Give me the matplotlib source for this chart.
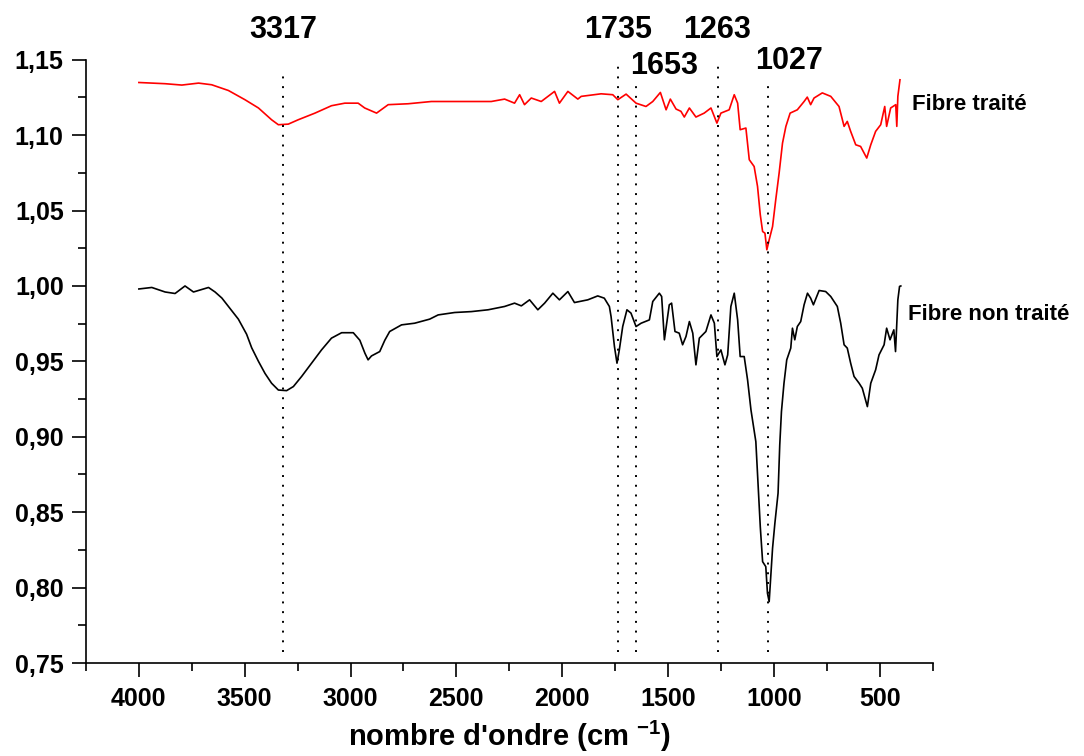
import numpy as np
import matplotlib
matplotlib.use("Agg")
import matplotlib.pyplot as plt
from matplotlib.ticker import MultipleLocator, FuncFormatter

plt.rcParams['font.family'] = ['Liberation Sans', 'DejaVu Sans']
plt.rcParams['font.weight'] = 'bold'
plt.rcParams['mathtext.fontset'] = 'custom'
plt.rcParams['mathtext.rm'] = 'Liberation Sans:bold'
plt.rcParams['mathtext.default'] = 'rm'

# fibre non traitee (black)
wn_raw = [4000, 3939, 3876, 3829, 3782, 3742, 3671, 3640, 3608, 3569, 3530, 3491,
          3467, 3435, 3404, 3373, 3341, 3302, 3270, 3231, 3184, 3137, 3090, 3042,
          2987, 2956, 2932, 2917, 2901, 2862, 2838, 2815, 2759, 2697, 2626, 2586,
          2508, 2429, 2350, 2272, 2225, 2193, 2154, 2115, 2083, 2044, 2013, 1973,
          1942, 1879, 1832, 1801, 1777, 1769, 1753, 1741, 1730, 1714, 1694, 1675,
          1651, 1627, 1588, 1572, 1541, 1530, 1517, 1494, 1483, 1467, 1447, 1431,
          1415, 1399, 1383, 1368, 1352, 1321, 1297, 1281, 1269, 1250, 1231, 1218,
          1203, 1187, 1171, 1159, 1140, 1124, 1108, 1085, 1077, 1064, 1053, 1038,
          1030, 1022, 1014, 1006, 995, 980, 972, 964, 952, 939, 920, 912, 901, 889,
          873, 857, 841, 826, 813, 786, 755, 731, 700, 684, 668, 653, 637, 621, 597,
          582, 558, 542, 519, 503, 479, 467, 451, 433, 425, 414, 406, 400]
ab_raw = [0.998, 0.999, 0.996, 0.995, 1.000, 0.996, 0.999, 0.996, 0.992, 0.985, 0.978, 0.968,
          0.959, 0.950, 0.942, 0.9355, 0.931, 0.9306, 0.9333, 0.940, 0.9488, 0.9576, 0.9654, 0.969,
          0.969, 0.964, 0.9554, 0.951, 0.9536, 0.9565, 0.964, 0.9698, 0.9742, 0.9753, 0.978, 0.9808,
          0.9824, 0.983, 0.9842, 0.9864, 0.9886, 0.9868, 0.9908, 0.9842, 0.9886, 0.9952, 0.9908, 0.9963,
          0.989, 0.9908, 0.9934, 0.9919, 0.9864, 0.9797, 0.9598, 0.9488, 0.9576, 0.9731, 0.9842, 0.982,
          0.9731, 0.9753, 0.9775, 0.9897, 0.9952, 0.993, 0.9643, 0.9875, 0.9886, 0.9698, 0.9687, 0.961,
          0.9665, 0.9764, 0.9687, 0.9477, 0.9654, 0.9698, 0.9808, 0.9753, 0.9532, 0.9576, 0.9477, 0.9543,
          0.9864, 0.9952, 0.9775, 0.9532, 0.9532, 0.9377, 0.9178, 0.8968, 0.8758, 0.8404, 0.8172, 0.8139,
          0.7962, 0.7907, 0.8084, 0.8261, 0.8427, 0.8626, 0.8946, 0.9167, 0.9355, 0.951, 0.9588, 0.972, 0.9643, 0.9731,
          0.9764, 0.9875, 0.9952, 0.9919, 0.9875, 0.997, 0.9963, 0.993, 0.9864, 0.9753, 0.961, 0.9588, 0.9488, 0.940, 0.9355,
          0.9322, 0.920, 0.9355, 0.9444, 0.9543, 0.961, 0.972, 0.9643, 0.9709, 0.9565, 0.9908, 0.9997, 1.000]

# fibre traitee (red)
wn_treat = [4000, 3876, 3797, 3718, 3656, 3577, 3499, 3435, 3373, 3341, 3294, 3247,
            3168, 3090, 3027, 2964, 2933, 2877, 2822, 2728, 2618, 2461, 2335, 2272,
            2225, 2201, 2178, 2146, 2099, 2036, 2013, 1973, 1926, 1910, 1816, 1761,
            1737, 1698, 1651, 1604, 1572, 1536, 1509, 1489, 1462, 1439, 1423, 1399,
            1368, 1329, 1297, 1269, 1250, 1211, 1187, 1171, 1159, 1132, 1116, 1093,
            1077, 1064, 1053, 1042, 1033, 1022, 1006, 991, 975, 959, 943, 923, 889,
            857, 842, 826, 810, 771, 731, 692, 668, 653, 637, 613, 590, 561, 542, 519,
            495, 476, 467, 448, 424, 419, 414, 404]
ab_treat = [1.1349, 1.1341, 1.1332, 1.1345, 1.1334, 1.1296, 1.1235, 1.118, 1.1102, 1.1069, 1.1073, 1.1102,
            1.1146, 1.1195, 1.1212, 1.1212, 1.118, 1.1146, 1.1202, 1.1208, 1.1223, 1.1223, 1.1223, 1.1239,
            1.1212, 1.1268, 1.1202, 1.1246, 1.1223, 1.129, 1.1212, 1.129, 1.1239, 1.1257, 1.1274, 1.1268,
            1.1235, 1.1272, 1.1212, 1.119, 1.1223, 1.1283, 1.1168, 1.1239, 1.1173, 1.1158, 1.112, 1.118,
            1.112, 1.1146, 1.118, 1.108, 1.1146, 1.1168, 1.1268, 1.1212, 1.1036, 1.1047, 1.0837, 1.0792,
            1.066, 1.0472, 1.0361, 1.035, 1.024, 1.0306, 1.0394, 1.0571, 1.0748, 1.0947, 1.1058, 1.1146, 1.1168,
            1.1223, 1.1252, 1.1202, 1.1246, 1.128, 1.1257, 1.119, 1.1058, 1.1091, 1.1025, 1.0936, 1.0925, 1.0848, 1.0936, 1.1025,
            1.1069, 1.119, 1.1058, 1.118, 1.1202, 1.1058, 1.1257, 1.1367]

peaks = [3317, 1735, 1653, 1263, 1027]
peak_labels = ['3317', '1735', '1653', '1263', '1027']
series_labels = ['Fibre traité', 'Fibre non traité']

fig = plt.figure(figsize=(10.84, 7.56), dpi=100)
ax = fig.add_axes([0.0793, 0.123, 0.781, 0.798])

ax.plot(wn_treat, ab_treat, color='#ff0000', lw=1.2)
ax.plot(wn_raw, ab_raw, color='black', lw=1.2)

# dotted guide lines at the band positions
tops = [1.143, 1.149, 1.137, 1.149, 1.136]
for p, t in zip(peaks, tops):
    ax.plot([p, p], [0.757, t], color='black', lw=1.4, ls=(0, (1, 4)))

# peak labels (x/y placement tuned to the picture)
lab_pos = [(3317, 1.170), (1735, 1.170), (1519, 1.146), (1269, 1.170), (929, 1.149)]
for (lx, ly), s in zip(lab_pos, peak_labels):
    ax.text(lx, ly, s, ha='center', va='center', fontsize=22, fontweight='bold', clip_on=False)

ax.text(349, 1.1202, series_labels[0], ha='left', va='center', fontsize=16, fontweight='bold', clip_on=False)
ax.text(368, 0.9808, series_labels[1], ha='left', va='center', fontsize=16, fontweight='bold', clip_on=False)

ax.set_xlim(4250, 250)
ax.set_ylim(0.75, 1.15)
ax.xaxis.set_major_locator(MultipleLocator(500))
ax.xaxis.set_minor_locator(MultipleLocator(250))
ax.yaxis.set_major_locator(MultipleLocator(0.05))
ax.yaxis.set_minor_locator(MultipleLocator(0.025))
ax.yaxis.set_major_formatter(FuncFormatter(lambda v, pos: f"{v:.2f}".replace('.', ',')))
ax.xaxis.set_major_formatter(FuncFormatter(lambda v, pos: f"{v:.0f}"))

for s in ['top', 'right']:
    ax.spines[s].set_visible(False)
for s in ['left', 'bottom']:
    ax.spines[s].set_linewidth(1.2)

ax.tick_params(axis='both', which='major', length=10, width=1.2, labelsize=18, direction='out')
ax.tick_params(axis='both', which='minor', length=6, width=1.2, direction='out')
ax.tick_params(axis='y', which='major', pad=6)
ax.tick_params(axis='x', which='major', pad=7)
for lab in ax.get_xticklabels() + ax.get_yticklabels():
    lab.set_fontweight('bold')

ax.set_xlabel(r"nombre d'ondre (cm $^{-1}$)", fontsize=21, fontweight='bold', labelpad=6)

fig.savefig('out.png', dpi=100)
